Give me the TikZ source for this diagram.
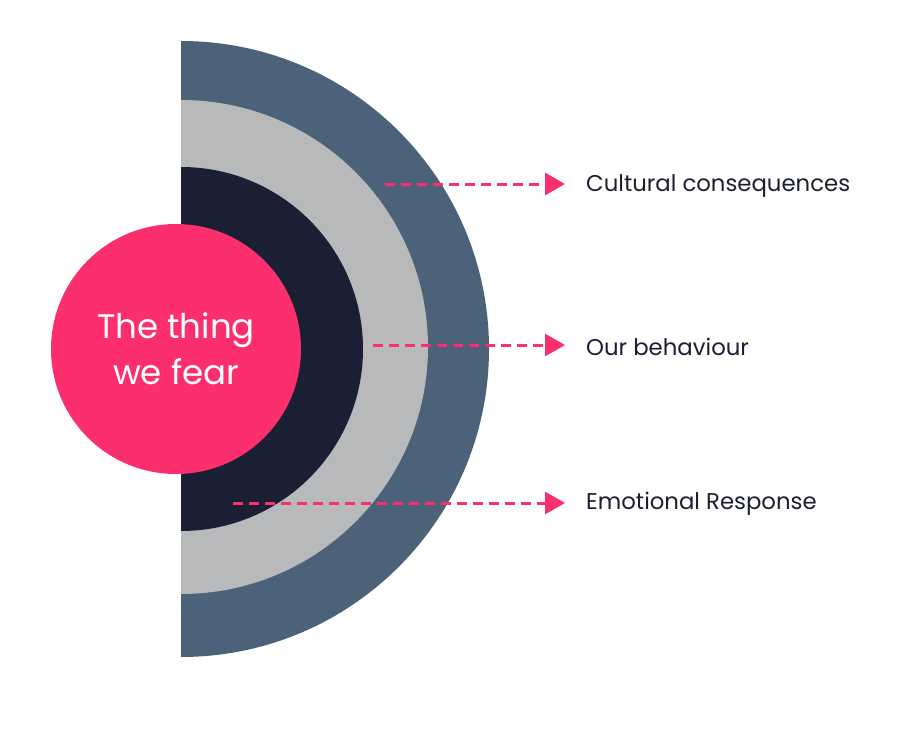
\documentclass[tikz,border=0pt]{standalone}
\usepackage{fontspec}
\setmainfont{Poppins}
\newfontfamily\handfont{Poppins}
\usetikzlibrary{arrows.meta}
\definecolor{outerc}{HTML}{4B6279}
\definecolor{midc}{HTML}{B8B9BB}
\definecolor{innerc}{HTML}{1A1F33}
\definecolor{pinkc}{HTML}{FC2F6E}
\definecolor{textc}{HTML}{1C1F33}
\tikzset{
  arr/.style={pinkc, line width=3pt, dash pattern=on 10pt off 6pt,
    -{Triangle[length=20pt,width=22pt]}, shorten >=21pt},
  lbl/.style={anchor=west, inner sep=0pt, text=textc, font=\fontsize{22.8}{26}\selectfont}
}
\begin{document}
\begin{tikzpicture}[x=1pt,y=-1pt]
\fill[white] (0,0) rectangle (900,736);
\useasboundingbox (0,0) rectangle (900,736);
\fill[outerc] (181,41) arc[start angle=-90,end angle=90,radius=308] -- cycle;
\fill[midc] (181,100) arc[start angle=-90,end angle=90,radius=247] -- cycle;
\fill[innerc] (181,167) arc[start angle=-90,end angle=90,radius=182] -- cycle;
\node[circle, fill=pinkc, minimum size=250pt, inner sep=0pt, text=white,
  align=center, font=\handfont\fontsize{34}{46}\selectfont] (fear) at (176,349) {\raisebox{-4pt}{The thing}\\\raisebox{-4pt}{we fear}};
\node[lbl] (l1) at (586,186) {Cultural consequences};
\node[lbl] (l2) at (586,347) {Our behaviour};
\node[lbl] (l3) at (586,504) {Emotional Response};
\coordinate (s1) at (385,184);
\coordinate (s2) at (373,345);
\coordinate (s3) at (233,503);
\draw[arr] (s1) -- (s1 -| l1.west);
\draw[arr] (s2) -- (s2 -| l2.west);
\draw[arr] (s3) -- (s3 -| l3.west);
\end{tikzpicture}
\end{document}
